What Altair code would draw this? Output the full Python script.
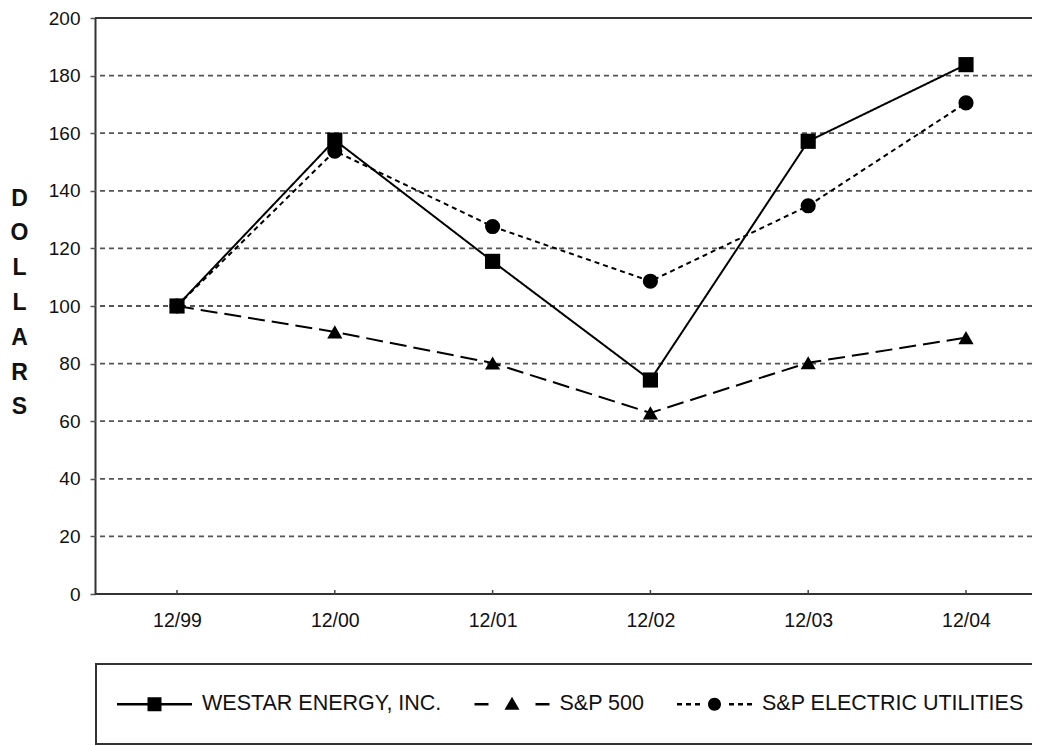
import altair as alt
import pandas as pd

# ---------------- data ----------------
periods = ["12/99", "12/00", "12/01", "12/02", "12/03", "12/04"]
series_names = ["WESTAR ENERGY, INC.", "S&P 500", "S&P ELECTRIC UTILITIES"]
westar = [100, 157.6, 115.5, 74.3, 157.2, 183.8]
sp500 = [100, 91.0, 80.2, 62.9, 80.3, 89.0]
electric = [100, 153.8, 127.6, 108.6, 134.8, 170.5]
y_ticks = [0, 20, 40, 60, 80, 100, 120, 140, 160, 180, 200]
grid_values = [20, 40, 60, 80, 100, 120, 140, 160, 180]
border_values = [0, 200]
y_title = list("DOLLARS")

rows = []
for name, vals in zip(series_names, [westar, sp500, electric]):
    for p, v in zip(periods, vals):
        rows.append({"period": p, "value": v, "series": name, "marker": name})
df = pd.DataFrame(rows)
df_grid = pd.DataFrame({"value": grid_values})
df_border = pd.DataFrame({"value": border_values})
df_ticks = pd.DataFrame({"period": periods, "value": [0] * len(periods), "top": [1.4] * len(periods)})

FONT = "Liberation Sans"
W, H = 937, 576

xscale = alt.Scale(type="point", domain=periods, range=[82, 871], padding=0)
yscale = alt.Scale(domain=[0, 200], nice=False, zero=True)

x_axis = alt.Axis(title=None, labelAngle=0, domain=False, ticks=False, grid=False,
                  labelFontSize=19.5, labelFont=FONT, labelColor="#111", labelPadding=17)
y_axis = alt.Axis(values=y_ticks, grid=False, domain=True, domainColor="#333", domainWidth=2,
                  ticks=True, tickSize=5, tickColor="#555", tickWidth=1.5,
                  labelFontSize=19, labelFont=FONT, labelColor="#111", labelPadding=10,
                  title=y_title, titleAngle=0, titleAlign="center", titleBaseline="middle",
                  titleX=-76, titleY=180, titleFontSize=23, titleFontWeight="bold",
                  titleFont=FONT, titleColor="#111", titleLineHeight=34.8)

x_enc = alt.X("period:O", scale=xscale, sort=periods, axis=x_axis)
y_enc = alt.Y("value:Q", scale=yscale, axis=y_axis)

# ---------------- legend symbols: filled paths (line pieces + marker) ----------------
S = 36.0
u = S / 2.0
SYM_W = 75.0
LH = 1.2  # half thickness of the legend line pieces, px

def X(px):
    return round((px - SYM_W / 2) / u, 4)

def Yp(px):
    return round(px / u, 4)

def bar(x0, x1):
    return f"M{X(x0)},{Yp(-LH)}H{X(x1)}V{Yp(LH)}H{X(x0)}Z"

bnd = "M0,-0.8M0,0.8"
sq = f"M{X(30.5)},{Yp(-7)}H{X(44.5)}V{Yp(7)}H{X(30.5)}Z"
tri = f"M{X(37.5)},{Yp(-7.5)}L{X(45)},{Yp(5.5)}L{X(30)},{Yp(5.5)}Z"
r = Yp(6.5)
circ = f"M{X(31)},0A{r},{r} 0 1,0 {X(44)},0A{r},{r} 0 1,0 {X(31)},0Z"

westar_sym = bnd + bar(0, 75) + sq
sp_sym = bnd + bar(0, 14) + bar(61, 75) + tri
elec_sym = bnd + bar(0, 5) + bar(9, 14) + bar(18, 23) + bar(52, 57) + bar(61, 66) + bar(70, 75) + circ
legend_paths = [westar_sym, sp_sym, elec_sym]

legend = alt.Legend(
    title=None, orient="none", legendX=1, legendY=646, direction="horizontal",
    padding=21, strokeColor="#333", columnPadding=28.5,
    symbolSize=S * S, symbolOffset=18.5, labelOffset=28.5, symbolStrokeWidth=2,
    symbolFillColor="black", symbolStrokeColor="black", symbolOpacity=1,
    labelFontSize=21.5, labelFont=FONT, labelColor="#111", labelLimit=600,
)

dash_scale = alt.Scale(domain=series_names, range=[[1, 0], [17, 7], [5, 4]])

# ---------------- layers ----------------
grid = alt.Chart(df_grid).mark_rule(color="#555", strokeWidth=1.8, strokeDash=[5, 4]).encode(y=y_enc)
border = alt.Chart(df_border).mark_rule(color="#333", strokeWidth=2).encode(y=y_enc)
ticks = alt.Chart(df_ticks).mark_rule(color="#444", strokeWidth=1.5).encode(
    x=x_enc, y=y_enc, y2=alt.Y2("top:Q"))
lines = alt.Chart(df).mark_line(color="black", strokeWidth=2).encode(
    x=x_enc, y=y_enc,
    strokeDash=alt.StrokeDash("series:N", scale=dash_scale, legend=None),
    detail="series:N",
)
points = alt.Chart(df).mark_point(filled=True, color="black", opacity=1).encode(
    x=x_enc, y=y_enc,
    shape=alt.Shape("marker:N", scale=alt.Scale(domain=series_names, range=["square", "triangle-up", "circle"]), legend=None),
    size=alt.Size("marker:N", scale=alt.Scale(domain=series_names, range=[230, 230, 200]), legend=None),
)
# empty layer that only carries the legend (line + marker symbols)
legend_layer = alt.Chart(df).transform_filter("false").mark_point(
    filled=True, fill="black", opacity=1
).encode(
    x=x_enc, y=y_enc,
    shape=alt.Shape("series:N", scale=alt.Scale(domain=series_names, range=legend_paths), legend=legend),
)

chart = alt.layer(grid, border, ticks, lines, points, legend_layer).resolve_scale(
    shape="independent", size="independent"
).properties(
    width=W, height=H,
    autosize=alt.AutoSizeParams(type="none"),
    padding={"left": 87, "top": 10, "right": 0, "bottom": 152},
    background="white",
).configure_view(stroke=None).configure_legend(strokeWidth=2)

chart.save("out.html", embed_options={"renderer": "svg", "actions": False})
